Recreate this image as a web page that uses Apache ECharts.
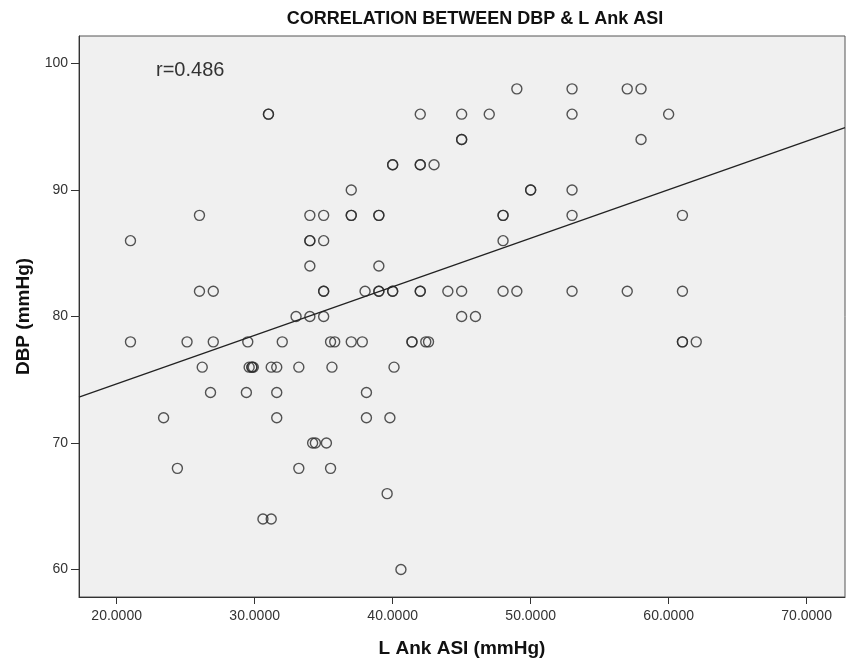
<!DOCTYPE html>
<html>
<head>
<meta charset="utf-8">
<script src="https://cdn.jsdelivr.net/npm/echarts@6/dist/echarts.min.js"></script>
<style>
  html, body { margin: 0; padding: 0; background: #fff; }
  #chart { width: 854px; height: 664px; }
</style>
</head>
<body>
<div id="chart"></div>
<script>
// L Ank ASI (x) and DBP (y), one row of DBP at a time
var ankAsi = [
  49, 53, 57, 58,
  31, 31, 42, 45, 47, 53, 60,
  45, 45, 58,
  40, 40, 42, 42, 43,
  37, 50, 50, 53,
  26, 34, 35, 37, 37, 39, 39, 48, 48, 53, 61,
  21, 34, 34, 35, 48,
  34, 39,
  26, 27, 35, 35, 38, 39, 39, 40, 40, 42, 42, 44, 45, 48, 49, 53, 57, 61,
  33, 34, 35, 45, 46,
  21, 25.1, 27, 29.5, 32, 35.5, 35.8, 37, 37.8, 41.4, 41.4, 42.4, 42.6, 61, 61, 62,
  26.2, 29.6, 29.8, 29.8, 29.9, 31.2, 31.6, 33.2, 35.6, 40.1,
  26.8, 29.4, 31.6, 38.1,
  23.4, 31.6, 38.1, 39.8,
  34.2, 34.4, 35.2,
  24.4, 33.2, 35.5,
  39.6,
  30.6, 31.2,
  40.6
];
var dbp = [
  98, 98, 98, 98,
  96, 96, 96, 96, 96, 96, 96,
  94, 94, 94,
  92, 92, 92, 92, 92,
  90, 90, 90, 90,
  88, 88, 88, 88, 88, 88, 88, 88, 88, 88, 88,
  86, 86, 86, 86, 86,
  84, 84,
  82, 82, 82, 82, 82, 82, 82, 82, 82, 82, 82, 82, 82, 82, 82, 82, 82, 82,
  80, 80, 80, 80, 80,
  78, 78, 78, 78, 78, 78, 78, 78, 78, 78, 78, 78, 78, 78, 78, 78,
  76, 76, 76, 76, 76, 76, 76, 76, 76, 76,
  74, 74, 74, 74,
  72, 72, 72, 72,
  70, 70, 70,
  68, 68, 68,
  66,
  64, 64,
  60
];
var xTicks = [20, 30, 40, 50, 60, 70];
var yTicks = [60, 70, 80, 90, 100];
// fit line
var fitIntercept = 67.01;
var fitSlope = 0.3838;

var xMin = 17.27, xMax = 72.78;
var yMin = 57.83, yMax = 102.18;

var points = ankAsi.map(function (x, i) { return [x, dbp[i]]; });
var fitLine = [
  [xMin, fitIntercept + fitSlope * xMin],
  [xMax, fitIntercept + fitSlope * xMax]
];

var font = "'Liberation Sans', Arial, sans-serif";
var chart = echarts.init(document.getElementById('chart'));
chart.setOption({
  animation: false,
  title: {
    text: 'CORRELATION BETWEEN DBP & L Ank ASI',
    left: 470,
    top: 5,
    textAlign: 'center',
    textStyle: { fontFamily: font, fontSize: 18, fontWeight: 'bold', color: '#111' }
  },
  grid: {
    left: 79, top: 36, width: 766, height: 561,
    show: true,
    backgroundColor: '#f0f0f0',
    borderColor: '#555',
    borderWidth: 1
  },
  xAxis: {
    type: 'value',
    min: xMin,
    max: xMax,
    name: 'L Ank ASI (mmHg)',
    nameLocation: 'middle',
    nameGap: 42,
    nameTextStyle: { fontFamily: font, fontSize: 19, fontWeight: 'bold', color: '#111' },
    axisLine: { lineStyle: { color: '#333' } },
    axisTick: { length: 7, lineStyle: { color: '#333' }, customValues: xTicks },
    axisLabel: {
      customValues: xTicks,
      margin: 12,
      fontFamily: font, fontSize: 14, color: '#333',
      formatter: function (v) { return v.toFixed(4); }
    },
    splitLine: { show: false }
  },
  yAxis: {
    type: 'value',
    min: yMin,
    max: yMax,
    name: 'DBP (mmHg)',
    nameLocation: 'middle',
    nameGap: 46,
    nameTextStyle: { fontFamily: font, fontSize: 19, fontWeight: 'bold', color: '#111' },
    axisLine: { show: true, lineStyle: { color: '#333' } },
    axisTick: { show: true, length: 8, lineStyle: { color: '#333' }, customValues: yTicks },
    axisLabel: { customValues: yTicks, margin: 11, fontFamily: font, fontSize: 14, color: '#333' },
    splitLine: { show: false }
  },
  graphic: [{
    type: 'text',
    left: 156,
    top: 60,
    style: { text: 'r=0.486', font: '20px ' + font, fill: '#333' }
  }],
  series: [
    {
      type: 'scatter',
      data: points,
      symbol: 'circle',
      symbolSize: 10,
      itemStyle: { color: 'rgba(0,0,0,0)', borderColor: '#2a2a2a', borderWidth: 1.4 }
    },
    {
      type: 'line',
      data: fitLine,
      symbol: 'none',
      lineStyle: { color: '#222', width: 1.3 },
      silent: true
    }
  ]
});
</script>
</body>
</html>
